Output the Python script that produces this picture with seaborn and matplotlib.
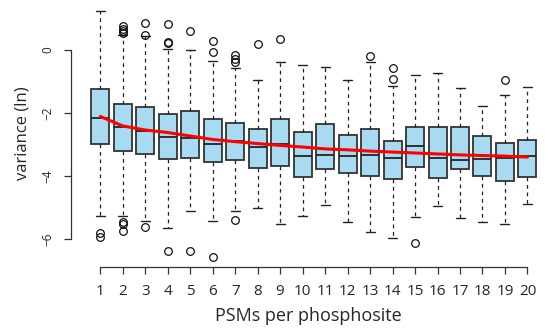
import matplotlib
matplotlib.use("Agg")
import matplotlib.pyplot as plt
import seaborn as sns
import pandas as pd

# ---- data ----
psms = list(range(1, 21))
tick_labels = [str(i) for i in psms]
whis_hi = [1.25, 0.49, 0.44, 0.03, -0.01, -0.36, -0.58, -0.96, -0.38, -0.47,
           -0.54, -0.94, -0.38, -1.15, -0.79, -0.74, -1.22, -1.77, -1.43, -1.16]
q3 = [-1.23, -1.70, -1.81, -2.04, -1.95, -2.19, -2.31, -2.51, -2.19, -2.61,
      -2.34, -2.69, -2.51, -2.88, -2.45, -2.43, -2.45, -2.72, -2.95, -2.86]
medians = [-2.16, -2.44, -2.56, -2.77, -2.79, -2.98, -2.90, -3.07, -3.00, -3.35,
           -3.32, -3.38, -3.33, -3.42, -3.05, -3.42, -3.49, -3.45, -3.43, -3.37]
q1 = [-2.98, -3.21, -3.29, -3.47, -3.43, -3.57, -3.48, -3.75, -3.68, -4.04,
      -3.79, -3.89, -3.99, -4.11, -3.72, -4.05, -3.79, -3.99, -4.17, -4.04]
whis_lo = [-5.26, -5.26, -5.43, -5.64, -5.12, -5.42, -5.11, -5.03, -5.52, -5.26,
           -4.91, -5.45, -5.78, -5.96, -5.30, -4.96, -5.32, -5.45, -5.51, -4.89]
outliers = [
    [-5.82, -5.93],
    [0.55, 0.59, 0.67, 0.76, -5.45, -5.52, -5.74],
    [0.87, 0.48, -5.61],
    [0.81, 0.24, 0.21, -6.39],
    [0.59, -6.39],
    [0.27, -0.07, -6.56],
    [-0.16, -0.28, -0.39, -5.41],
    [0.19],
    [0.36],
    [],
    [],
    [],
    [-0.18],
    [-0.56, -0.91],
    [-6.13],
    [],
    [],
    [],
    [-0.96],
    [],
]
trend = [-2.11, -2.41, -2.54, -2.62, -2.73, -2.84, -2.91, -2.97, -3.03, -3.08,
         -3.14, -3.17, -3.21, -3.24, -3.27, -3.30, -3.33, -3.35, -3.37, -3.40]

sns.set_style("white")
plt.rcParams['font.family'] = ['Open Sans', 'DejaVu Sans']

fig = plt.figure(figsize=(5.45, 3.33), dpi=100)
ax = fig.add_axes([71/545, 66/333, 474/545, 267/333])

stats = []
for i in range(len(psms)):
    stats.append(dict(med=medians[i], q1=q1[i], q3=q3[i], whislo=whis_lo[i],
                      whishi=whis_hi[i], fliers=outliers[i], label=tick_labels[i]))

ax.bxp(stats, positions=psms, widths=0.8, capwidths=0.4, patch_artist=True,
       boxprops=dict(facecolor='#A8DBF2', edgecolor='#333333', linewidth=1.3),
       medianprops=dict(color='#222222', linewidth=1.3),
       whiskerprops=dict(color='#222222', linewidth=0.9, linestyle=(0, (3, 3))),
       capprops=dict(color='#222222', linewidth=1.0),
       flierprops=dict(marker='o', markerfacecolor='none', markeredgecolor='#111111',
                       markersize=5.5, markeredgewidth=0.9))

df = pd.DataFrame({'psms': psms, 'trend': trend})
sns.lineplot(data=df, x='psms', y='trend', ax=ax, color='#FF0000', linewidth=2.2, zorder=5)

ax.set_xlim(-0.3, 20.78)
ax.set_ylim(-6.889, 1.587)
ax.set_xticks(psms)
ax.set_xticklabels(tick_labels, fontsize=11)
ax.set_yticks([-6, -4, -2, 0])
ax.set_yticklabels(['\u22126', '\u22124', '\u22122', '0'], fontsize=8.5, rotation=90, va='center')

for s in ['top', 'right']:
    ax.spines[s].set_visible(False)
ax.spines['left'].set_bounds(-6, 0)
ax.spines['bottom'].set_bounds(1, 20)
for s in ['left', 'bottom']:
    ax.spines[s].set_color('#333333')
    ax.spines[s].set_linewidth(0.9)

ax.tick_params(axis='both', direction='out', length=5, width=0.9, color='#333333',
               left=True, bottom=True)
ax.tick_params(axis='y', pad=7)
ax.tick_params(axis='x', pad=7)

ax.set_xlabel('PSMs per phosphosite', fontsize=13, labelpad=6)
ax.set_ylabel('variance (ln)', fontsize=12, labelpad=8)
ax.grid(False)

fig.savefig('out.png', dpi=100)
